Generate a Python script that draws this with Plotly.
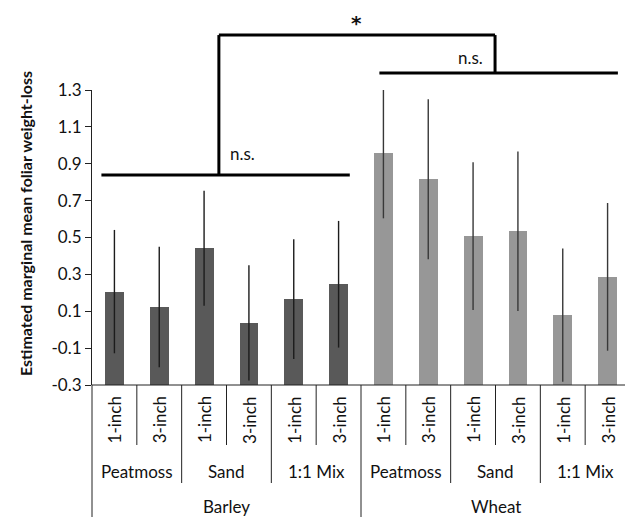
import plotly.graph_objects as go

# ---------------- data ----------------
crops = ["Barley", "Wheat"]
soils = ["Peatmoss", "Sand", "1:1 Mix"]
depths = ["1-inch", "3-inch"]

barley_means = [0.203, 0.121, 0.441, 0.035, 0.167, 0.246]
barley_err_up = [0.338, 0.329, 0.313, 0.314, 0.323, 0.344]
barley_err_down = [0.331, 0.325, 0.311, 0.310, 0.326, 0.343]

wheat_means = [0.958, 0.817, 0.508, 0.535, 0.080, 0.286]
wheat_err_up = [0.351, 0.433, 0.400, 0.432, 0.360, 0.401]
wheat_err_down = [0.354, 0.435, 0.401, 0.433, 0.362, 0.400]

y_ticks = [-0.3, -0.1, 0.1, 0.3, 0.5, 0.7, 0.9, 1.1, 1.3]
y_title = "Estimated marginal mean foliar weight-loss"

# ---------------- layout constants ----------------
# the page body adds an 8px offset, so the figure is drawn 8px smaller
PAGE_OFF = 8
W, H = 633 - PAGE_OFF, 517 - PAGE_OFF
PLOT_LEFT, PLOT_RIGHT, PLOT_TOP, PLOT_BOTTOM = 92, 630, 90, 385  # screen px
M_L = PLOT_LEFT - PAGE_OFF
M_T = PLOT_TOP - PAGE_OFF
M_R = (W + PAGE_OFF) - PLOT_RIGHT
M_B = (H + PAGE_OFF) - PLOT_BOTTOM
YMIN, YMAX = -0.3, 1.3
PLOT_H = PLOT_BOTTOM - PLOT_TOP
PLOT_W = PLOT_RIGHT - PLOT_LEFT
N = len(crops) * len(soils) * len(depths)
FONT = "Lato, 'Open Sans', sans-serif"
TXT = "#111111"


def py(pix):
    """screen pixel row -> paper y"""
    return (PLOT_BOTTOM - pix) / PLOT_H


def px(pix):
    """screen pixel column -> paper x"""
    return (pix - PLOT_LEFT) / PLOT_W


def dv(v):
    """data value -> paper y"""
    return (v - YMIN) / (YMAX - YMIN)


def dx(i):
    """category index (center = i) -> x domain fraction"""
    return (i + 0.5) / N


fig = go.Figure()
groups = [
    (list(range(0, 6)), barley_means, barley_err_up, barley_err_down, "#595959", "#1c1c1c"),
    (list(range(6, 12)), wheat_means, wheat_err_up, wheat_err_down, "#979797", "#383838"),
]
for idx, means, eu, ed, col, ecol in groups:
    fig.add_trace(go.Bar(
        x=idx, y=[m - YMIN for m in means], base=YMIN, width=0.42,
        marker_color=col, marker_line_width=0, showlegend=False))
    fig.add_trace(go.Scatter(
        x=idx, y=means, mode="markers", marker=dict(size=1, opacity=0),
        error_y=dict(type="data", symmetric=False, array=eu, arrayminus=ed,
                     color=ecol, thickness=1.4, width=0),
        showlegend=False, cliponaxis=True))

shapes = []
annotations = []
LC = "#222222"

# x axis baseline
shapes.append(dict(type="line", xref="x domain", yref="paper", x0=0, x1=1,
                   y0=0, y1=0, line=dict(color=LC, width=1)))
# left axis extended to the bottom
shapes.append(dict(type="line", xref="x domain", yref="paper", x0=0, x1=0,
                   y0=0, y1=py(517), line=dict(color=LC, width=1)))

# category dividers
for b in range(1, N + 1):
    if b % 6 == 0:
        bottom = py(517)
    elif b % 2 == 0:
        bottom = py(483)
    else:
        bottom = py(445)
    shapes.append(dict(type="line", xref="x domain", yref="paper",
                       x0=b / N, x1=b / N, y0=0, y1=bottom,
                       line=dict(color=LC, width=1)))

# labels
k = 0
for c in range(len(crops)):
    for s in range(len(soils)):
        for d in range(len(depths)):
            annotations.append(dict(xref="x domain", yref="paper", x=dx(k),
                                    y=py(420), text=depths[d], textangle=-90,
                                    xanchor="center", yanchor="middle",
                                    showarrow=False,
                                    font=dict(size=17, color=TXT)))
            k += 1
        center = c * 6 + s * 2 + 0.5
        annotations.append(dict(xref="x domain", yref="paper", x=dx(center),
                                y=py(471), text=soils[s], showarrow=False,
                                xanchor="center", yanchor="middle",
                                font=dict(size=17, color=TXT)))
    annotations.append(dict(xref="x domain", yref="paper", x=dx(c * 6 + 2.5),
                            y=py(506), text=crops[c], showarrow=False,
                            xanchor="center", yanchor="middle",
                            font=dict(size=17, color=TXT)))

# y title
annotations.append(dict(xref="paper", yref="paper", x=px(25), y=py(224),
                        text=f"<b>{y_title}</b>", textangle=-90,
                        xanchor="center", yanchor="middle", showarrow=False,
                        font=dict(size=16, color=TXT)))

# significance brackets (category-index / data-value anchors)
BW = 3
yb = dv(0.839)
ytop = dv(1.598)
yw = dv(1.392)
xb0, xb1, xl, xr, xw0, xw1 = -0.29, 5.25, 2.33, 8.49, 5.91, 11.23
shapes += [
    dict(type="line", xref="x domain", yref="paper", x0=dx(xb0), x1=dx(xb1),
         y0=yb, y1=yb, line=dict(color="#000", width=BW)),
    dict(type="line", xref="x domain", yref="paper", x0=dx(xl), x1=dx(xl),
         y0=yb, y1=ytop, line=dict(color="#000", width=BW)),
    dict(type="line", xref="x domain", yref="paper", x0=dx(xl), x1=dx(xr),
         y0=ytop, y1=ytop, line=dict(color="#000", width=BW)),
    dict(type="line", xref="x domain", yref="paper", x0=dx(xr), x1=dx(xr),
         y0=ytop, y1=yw, line=dict(color="#000", width=BW)),
    dict(type="line", xref="x domain", yref="paper", x0=dx(xw0), x1=dx(xw1),
         y0=yw, y1=yw, line=dict(color="#000", width=BW)),
]
annotations += [
    dict(xref="x domain", yref="paper", x=dx(2.53), y=dv(0.953), xanchor="left",
         yanchor="middle", text="n.s.", showarrow=False,
         font=dict(size=17, color=TXT)),
    dict(xref="x domain", yref="paper", x=dx(7.61), y=dv(1.474), xanchor="left",
         yanchor="middle", text="n.s.", showarrow=False,
         font=dict(size=17, color=TXT)),
    dict(xref="x domain", yref="paper", x=dx(5.39), y=dv(1.666),
         xanchor="center", yanchor="middle", text="<b>*</b>", showarrow=False,
         font=dict(size=20, color=TXT, family="DejaVu Sans")),
]

fig.update_layout(
    width=W, height=H,
    margin=dict(l=M_L, r=M_R, t=M_T, b=M_B, pad=0, autoexpand=False),
    paper_bgcolor="white", plot_bgcolor="white",
    font=dict(family=FONT, color=TXT),
    bargap=0,
    shapes=shapes, annotations=annotations,
    xaxis=dict(range=[-0.5, N - 0.5], showticklabels=False, showgrid=False,
               zeroline=False, showline=False, ticks="", automargin=False),
    yaxis=dict(range=[YMIN, YMAX], tickvals=y_ticks,
               ticktext=[f"{v:.1f}" for v in y_ticks],
               showgrid=False, zeroline=False, showline=True,
               linecolor=LC, linewidth=1, ticks="outside", ticklen=6,
               tickcolor=LC, tickfont=dict(size=17, color=TXT),
               automargin=False),
)

fig.write_html("out.html")
